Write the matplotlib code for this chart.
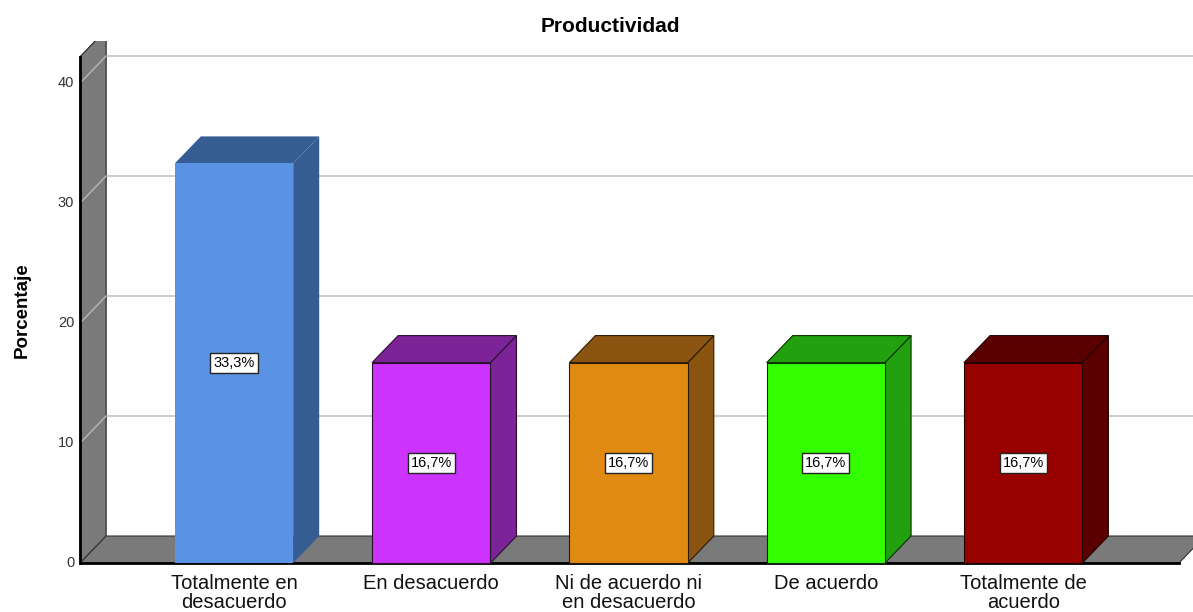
import matplotlib.pyplot as plt
from matplotlib.patches import Polygon

plt.rcParams['font.family'] = ['Liberation Sans', 'DejaVu Sans']

categories = ['Totalmente en\ndesacuerdo', 'En desacuerdo', 'Ni de acuerdo ni\nen desacuerdo',
              'De acuerdo', 'Totalmente de\nacuerdo']
percent = [33.3, 16.7, 16.7, 16.7, 16.7]
labels = ['33,3%', '16,7%', '16,7%', '16,7%', '16,7%']
y_ticks = [0, 10, 20, 30, 40]

front_colors = ['#5a93e3', '#cc33ff', '#e08a12', '#33ff00', '#990000']
side_colors = ['#355d93', '#7c2398', '#8b5511', '#22a010', '#5a0000']
edge_colors = ['none', '#2a1030', '#2a1a05', '#0a3000', '#200000']

# 3D look: depth offset in data units (x in category units, y in percent)
dx, dy = 0.132, 2.25
half = 0.3
wall_x = -0.78
floor_right = 4.79
wall_top = 42.2

fig = plt.figure(figsize=(11.93, 6.12), dpi=100)
ax = fig.add_axes([0, 0, 1, 571 / 612])
ax.set_xlim(-1.186, 4.861)
ax.set_ylim(-4.083, 43.5)
ax.axis('off')

# back wall gridlines
for v in y_ticks[1:]:
    ax.plot([wall_x + dx, 6], [v + dy, v + dy], color='#c8c8c8', lw=1.3, zorder=1)

# left wall
wall = Polygon([(wall_x, 0), (wall_x, wall_top), (wall_x + dx, wall_top + dy), (wall_x + dx, dy)],
               closed=True, facecolor='#7a7a7a', edgecolor='#222222', lw=0.8, zorder=2)
ax.add_patch(wall)
for v in y_ticks[1:]:
    ax.plot([wall_x, wall_x + dx], [v, v + dy], color='#b8b8b8', lw=1.0, zorder=3)

# floor
floor = Polygon([(wall_x, 0), (floor_right, 0), (floor_right + dx, dy), (wall_x + dx, dy)],
                closed=True, facecolor='#7a7a7a', edgecolor='#333333', lw=0.8, zorder=2)
ax.add_patch(floor)
ax.plot([wall_x, floor_right], [0, 0], color='black', lw=2, zorder=4)
ax.plot([wall_x, wall_x], [0, wall_top], color='black', lw=2, zorder=4)

# bars
for i, v in enumerate(percent):
    l, r = i - half, i + half
    ax.add_patch(Polygon([(r, 0), (r + dx, dy), (r + dx, v + dy), (r, v)], closed=True,
                         facecolor=side_colors[i], edgecolor=edge_colors[i], lw=0.8, zorder=5))
    ax.add_patch(Polygon([(l, v), (r, v), (r + dx, v + dy), (l + dx, v + dy)], closed=True,
                         facecolor=side_colors[i], edgecolor=edge_colors[i], lw=0.8, zorder=5))
    ax.add_patch(Polygon([(l, 0), (r, 0), (r, v), (l, v)], closed=True,
                         facecolor=front_colors[i], edgecolor=edge_colors[i], lw=0.8, zorder=6))
    ax.text(i, v / 2, labels[i], ha='center', va='center', fontsize=10.5, zorder=7,
            bbox=dict(boxstyle='square,pad=0.2', facecolor='white', edgecolor='#222222', lw=1))
    ax.text(i, -0.95, categories[i], ha='center', va='top', fontsize=14.5, linespacing=0.97,
            color='#111111')

# y tick labels
for v in y_ticks:
    ax.text(wall_x - 0.03, v, str(v), ha='right', va='center', fontsize=10.5, color='#333333')

fig.text(22 / 1193, 1 - 310 / 612, 'Porcentaje', rotation=90, ha='center', va='center',
         fontsize=13.5, fontweight='bold')
fig.text(610 / 1193, 1 - 27 / 612, 'Productividad', ha='center', va='center',
         fontsize=15, fontweight='bold')

fig.savefig('out.png', dpi=100)
